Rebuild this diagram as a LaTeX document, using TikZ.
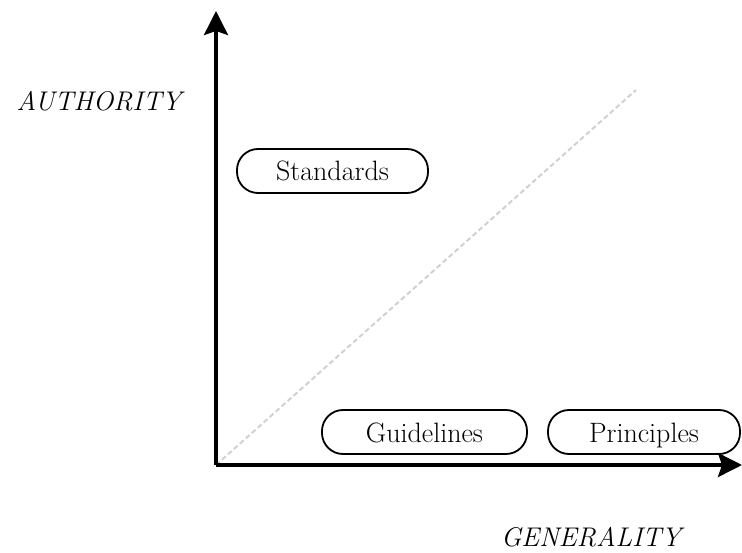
\documentclass[tikz,border=0pt]{standalone}
\usepackage{fontspec}
\usetikzlibrary{arrows.meta}
\tikzset{
  axis/.style={line width=3.5pt, -{Stealth[length=24pt,width=24pt,inset=4pt]}},
  pill/.style={draw, line width=1.8pt, rounded corners=21pt, minimum height=44pt, inner sep=0pt,
    text height=20pt, text depth=0pt, font=\fontsize{28}{32}\selectfont},
  axlabel/.style={font=\fontsize{27}{31}\selectfont\itshape, inner sep=0pt},
  diag/.style={draw=black!18, line width=2pt, dash pattern=on 5pt off 3pt}
}
\begin{document}
\begin{tikzpicture}[x=1pt,y=-1pt]
\useasboundingbox (0,0) rectangle (742,553);
\coordinate (o) at (216,465);
\coordinate (ytip) at (216,11);
\coordinate (xtip) at (742,465);
\coordinate (d) at (636,90);
\draw[diag] (o) -- (d);
\draw[axis] (o) -- (ytip);
\draw[axis] (o) -- (xtip);
\node[pill, minimum width=191pt] (std) at (332.5,171) {Standards};
\node[pill, minimum width=205pt] (gui) at (424.5,432) {Guidelines};
\node[pill, minimum width=192pt] (pri) at (644,432) {Principles};
\node[axlabel] (auth) at (99,101) {AUTHORITY};
\node[axlabel] (gen) at (591,537) {GENERALITY};
\end{tikzpicture}
\end{document}
